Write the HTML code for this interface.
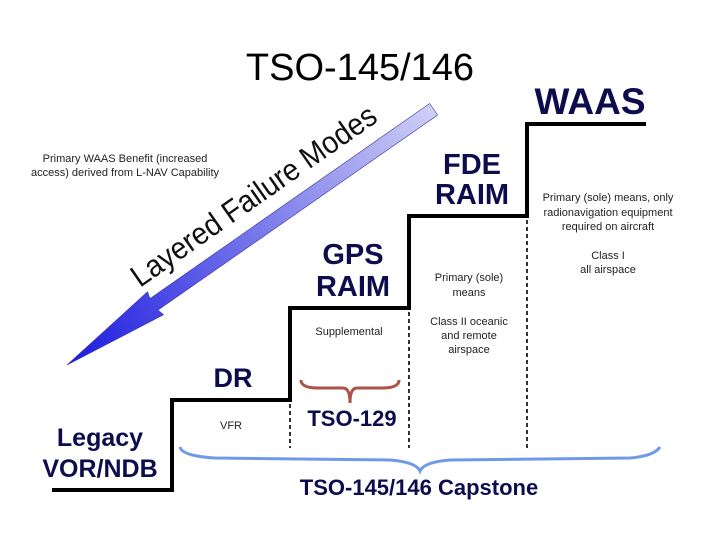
<!DOCTYPE html>
<html><head><meta charset="utf-8"><style>
html,body{margin:0;padding:0;background:#fff}
svg{display:block}
.b{font-family:"Liberation Sans",sans-serif;font-weight:bold;fill:#0d0d4d}
.s{font-family:"Liberation Sans",sans-serif;font-size:11px;fill:#222}
</style></head><body>
<svg width="720" height="540" viewBox="0 0 720 540" xmlns="http://www.w3.org/2000/svg">
<defs>
<linearGradient id="g" x1="0" y1="0" x2="1" y2="0">
<stop offset="0" stop-color="#1a1ae0"/><stop offset="1" stop-color="#cfcff5"/>
</linearGradient>
</defs>
<text x="360" y="80" text-anchor="middle" font-family="Liberation Sans,sans-serif" font-size="38" fill="#000">TSO-145/146</text>
<text class="b" x="590" y="114" text-anchor="middle" font-size="37">WAAS</text>
<text class="b" x="472" y="174" text-anchor="middle" font-size="29">FDE</text>
<text class="b" x="472" y="204" text-anchor="middle" font-size="29">RAIM</text>
<text class="b" x="353" y="264" text-anchor="middle" font-size="29">GPS</text>
<text class="b" x="353" y="296" text-anchor="middle" font-size="29">RAIM</text>
<text class="b" x="233" y="387" text-anchor="middle" font-size="27">DR</text>
<text class="b" x="100" y="446" text-anchor="middle" font-size="25">Legacy</text>
<text class="b" x="100" y="477" text-anchor="middle" font-size="25">VOR/NDB</text>
<text class="b" x="352" y="426" text-anchor="middle" font-size="22">TSO-129</text>
<text class="b" x="419" y="495" text-anchor="middle" font-size="22">TSO-145/146 Capstone</text>

<text class="s" x="125" y="162" text-anchor="middle">Primary WAAS Benefit (increased</text>
<text class="s" x="125" y="176" text-anchor="middle">access) derived from L-NAV Capability</text>
<text class="s" x="349" y="335" text-anchor="middle">Supplemental</text>
<text class="s" x="231" y="429" text-anchor="middle">VFR</text>
<text class="s" x="469" y="281" text-anchor="middle">Primary (sole)</text>
<text class="s" x="469" y="296" text-anchor="middle">means</text>
<text class="s" x="469" y="325" text-anchor="middle">Class II oceanic</text>
<text class="s" x="469" y="339" text-anchor="middle">and remote</text>
<text class="s" x="469" y="353" text-anchor="middle">airspace</text>
<text class="s" x="608" y="201" text-anchor="middle">Primary (sole) means, only</text>
<text class="s" x="608" y="216" text-anchor="middle">radionavigation equipment</text>
<text class="s" x="608" y="230" text-anchor="middle">required on aircraft</text>
<text class="s" x="608" y="259" text-anchor="middle">Class I</text>
<text class="s" x="608" y="273" text-anchor="middle">all airspace</text>

<polyline points="52,490 172,490 172,400 290,400 290,308 409,308 409,216 527,216 527,124 646,124" fill="none" stroke="#000" stroke-width="4"/>
<g stroke="#000" stroke-width="1.6" stroke-dasharray="4,3">
<line x1="290" y1="404" x2="290" y2="448"/>
<line x1="409" y1="312" x2="409" y2="448"/>
<line x1="527" y1="220" x2="527" y2="448"/>
</g>
<path d="M301,380 Q301,388 318,388 L343,388 Q350,388 350,403 Q350,388 357,388 L382,388 Q399,388 399,380" fill="none" stroke="#b0504a" stroke-width="3"/>
<path d="M180,447 Q182,456 215,458 L390,460 Q416,462 420,471 Q424,462 450,460 L630,458 Q654,456 660,447" fill="none" stroke="#6f9be6" stroke-width="3"/>

<g transform="translate(67,365) rotate(-34.9)">
<polygon points="0,0 108,-14 106,-7 447,-7 447,7 106,7 108,14" fill="url(#g)" stroke="#3838a0" stroke-width="0.6"/>
</g>
<text transform="translate(140,288) rotate(-35)" font-family="Liberation Sans,sans-serif" font-size="31" fill="#111" textLength="292" lengthAdjust="spacingAndGlyphs">Layered Failure Modes</text>
</svg>
</body></html>
